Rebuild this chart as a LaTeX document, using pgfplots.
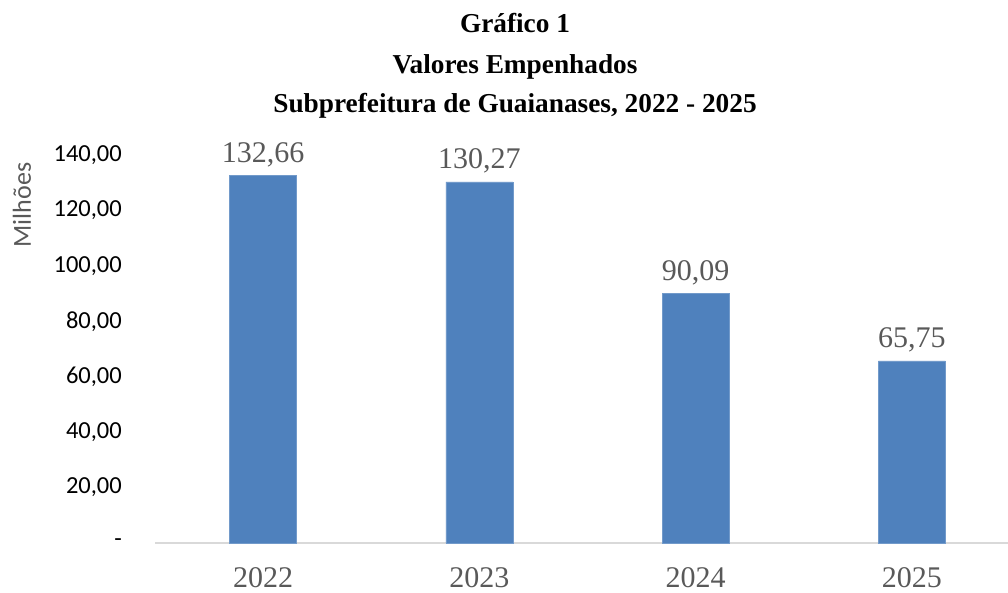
\documentclass[border=0pt]{standalone}
\usepackage{pgfplots}
\pgfplotsset{compat=1.18}
\usepackage{fontspec}
\setmainfont{Liberation Serif}
\newfontfamily\calibri{Carlito}
\definecolor{barblue}{HTML}{4F81BD}
\definecolor{txtgray}{HTML}{595959}
\definecolor{axgray}{HTML}{D9D9D9}
\begin{document}
\begin{tikzpicture}
\begin{axis}[
  at={(155pt,50pt)}, anchor=south west,
  scale only axis, width=853pt, height=388pt,
  xmin=-0.5, xmax=3.444, ymin=0, ymax=140,
  axis x line=bottom, axis y line=left,
  x axis line style={draw=axgray, line width=1.5pt, -},
  y axis line style={draw=none},
  major tick length=0pt,
  tick style={draw=none},
  xtick={0,1,2,3}, xticklabels={2022,2023,2024,2025},
  ytick={0,20,40,60,80,100,120,140},
  yticklabels={{-\hspace{10pt}},{20,00},{40,00},{60,00},{80,00},{100,00},{120,00},{140,00}},
  yticklabel style={font=\calibri\fontsize{24.5}{29}\selectfont, text=black, anchor=east, inner sep=0pt, xshift=-33pt},
  xticklabel style={font=\fontsize{30}{36}\selectfont, text=txtgray, anchor=base, inner sep=0pt, yshift=-45pt},
  ybar, bar width=67pt,
  nodes near coords,
  nodes near coords style={font=\fontsize{30}{36}\selectfont, text=txtgray, anchor=base, inner sep=0pt, yshift=13pt,
    /pgf/number format/.cd, fixed, fixed zerofill, precision=2, use comma, assume math mode=true},
  clip=false,
]
\addplot[fill=barblue, draw=barblue!80!white] coordinates {(0,132.66) (1,130.27) (2,90.09) (3,65.75)};
\end{axis}
\node[font=\bfseries\fontsize{27.3}{33}\selectfont, anchor=base] at (515pt,560pt) {Gráfico 1};
\node[font=\bfseries\fontsize{27.3}{33}\selectfont, anchor=base] at (515pt,519pt) {Valores Empenhados};
\node[font=\bfseries\fontsize{27.3}{33}\selectfont, anchor=base] at (515pt,480pt) {Subprefeitura de Guaianases, 2022 - 2025};
\node[rotate=90, inner sep=0pt, font=\calibri\fontsize{26}{31}\selectfont, text=txtgray] at (22pt,388pt) {Milhões};
\pgfresetboundingbox
\path[use as bounding box] (0pt,0pt) rectangle (1008pt,593pt);
\end{tikzpicture}
\end{document}
